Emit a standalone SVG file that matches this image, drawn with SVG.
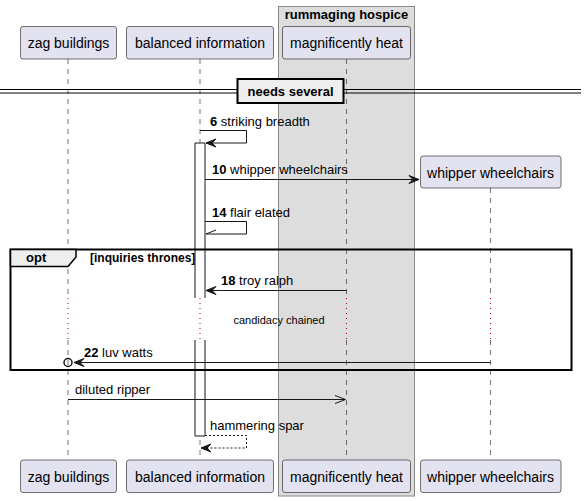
<svg xmlns="http://www.w3.org/2000/svg" width="587" height="501" viewBox="0 0 587 501">
<defs>
<style>
.pbox{fill:#E2E2F0;stroke:#181818;stroke-width:0.6}
.pt{font-family:"Liberation Sans",Arial,sans-serif;font-size:14px;fill:#000;text-anchor:middle}
.life{stroke:#181818;stroke-width:0.6;stroke-dasharray:5,5;fill:none}
.delay{stroke:#A80036;stroke-width:1;stroke-dasharray:1,4;fill:none}
.msg{stroke:#181818;stroke-width:1;fill:none}
.mt{font-family:"Liberation Sans",Arial,sans-serif;font-size:13px;fill:#000}
.sm{font-size:11px}
.gl{font-size:12px}
.b{font-weight:bold}
.head{fill:#181818;stroke:#181818;stroke-width:1}
</style>
</defs>
<g id="group-rummaging-hospice">
<rect x="278.5" y="6.5" width="136" height="489.5" fill="#DDDDDD" stroke="#888888" stroke-width="1"/>
<text x="346.5" y="19" class="mt b" text-anchor="middle">rummaging hospice</text>
</g>
<g id="lifelines">
<line class="life" x1="68" y1="59" x2="68" y2="298"/>
<line class="delay" x1="68" y1="298" x2="68" y2="340"/>
<line class="life" x1="68" y1="340" x2="68" y2="460"/>
<line class="life" x1="200" y1="59" x2="200" y2="298"/>
<line class="delay" x1="200" y1="298" x2="200" y2="340"/>
<line class="life" x1="200" y1="340" x2="200" y2="460"/>
<line class="life" x1="346.5" y1="59" x2="346.5" y2="298"/>
<line class="delay" x1="346.5" y1="298" x2="346.5" y2="340"/>
<line class="life" x1="346.5" y1="340" x2="346.5" y2="460"/>
<line class="life" x1="490.5" y1="188" x2="490.5" y2="298"/>
<line class="delay" x1="490.5" y1="298" x2="490.5" y2="340"/>
<line class="life" x1="490.5" y1="340" x2="490.5" y2="460"/>
</g>
<g id="activation-balanced-information">
<rect x="195" y="143" width="10" height="155" fill="#FFFFFF"/>
<rect x="195" y="340" width="10" height="96" fill="#FFFFFF"/>
<path d="M195,298 V143 H205 V298 M195,340 V436 H205 V340" fill="none" stroke="#181818" stroke-width="1"/>
</g>
<g id="divider-needs-several">
<line x1="0" y1="89.5" x2="581" y2="89.5" stroke="#000" stroke-width="1"/>
<line x1="0" y1="93" x2="581" y2="93" stroke="#000" stroke-width="1"/>
<rect x="237.5" y="79" width="106" height="24" fill="#EEEEEE" stroke="#000" stroke-width="2"/>
<text x="290.5" y="96" class="mt b" text-anchor="middle">needs several</text>
</g>
<g id="frame-opt">
<rect x="10.5" y="249.5" width="561" height="120.5" fill="none" stroke="#000" stroke-width="2"/>
<path d="M10.5,249.5 H76 V257 L68,266.5 H10.5 Z" fill="#EEEEEE" stroke="#000" stroke-width="1.5"/>
<text x="26" y="262" class="mt b">opt</text>
<text x="90" y="262" class="mt b gl">[inquiries thrones]</text>
</g>
<g id="connectors">
<path class="msg" d="M200,130.5 H246.5 V143 H206"/>
<polygon class="head" points="206,143 216,139 212,143 216,147"/>
<text x="210" y="126" class="mt"><tspan class="b">6</tspan> striking breadth</text>
<line class="msg" x1="205" y1="179.5" x2="418" y2="179.5"/>
<polygon class="head" points="419,179.5 409,175.5 413,179.5 409,183.5"/>
<text x="212" y="174" class="mt"><tspan class="b">10</tspan> whipper wheelchairs</text>
<path class="msg" d="M205,221.5 H246.5 V234 H206"/>
<line class="msg" x1="206" y1="234" x2="216" y2="230"/>
<text x="212" y="217" class="mt"><tspan class="b">14</tspan> flair elated</text>
<line class="msg" x1="346.5" y1="290.5" x2="207" y2="290.5"/>
<polygon class="head" points="206,290.5 216,286.5 212,290.5 216,294.5"/>
<text x="221" y="285" class="mt"><tspan class="b">18</tspan> troy ralph</text>
<text x="279" y="324" class="mt sm" text-anchor="middle">candidacy chained</text>
<line class="msg" x1="490.5" y1="362.5" x2="76" y2="362.5"/>
<polygon class="head" points="74,362.5 84,358.5 80,362.5 84,366.5"/>
<circle cx="68" cy="362.5" r="4" fill="none" stroke="#181818" stroke-width="1.5"/>
<text x="84" y="357" class="mt"><tspan class="b">22</tspan> luv watts</text>
<line class="msg" x1="68" y1="399.5" x2="345" y2="399.5"/>
<path class="msg" d="M335,395.5 L345.5,399.5 L335,403.5"/>
<text x="75" y="394" class="mt">diluted ripper</text>
<path class="msg" d="M205,435.5 H246.5 V448 H202" stroke-dasharray="2,2"/>
<polygon class="head" points="201,448 211,444 207,448 211,452"/>
<text x="210" y="430" class="mt">hammering spar</text>
</g>
<g id="participant-zag-buildings">
<rect class="pbox" x="20.5" y="26.5" width="96" height="32.5" rx="2.5"/>
<text class="pt" x="68.5" y="48">zag buildings</text>
<rect class="pbox" x="20.5" y="460" width="96" height="32.5" rx="2.5"/>
<text class="pt" x="68.5" y="481.5">zag buildings</text>
</g>
<g id="participant-balanced-information">
<rect class="pbox" x="126.5" y="26.5" width="147" height="32.5" rx="2.5"/>
<text class="pt" x="200" y="48">balanced information</text>
<rect class="pbox" x="126.5" y="460" width="147" height="32.5" rx="2.5"/>
<text class="pt" x="200" y="481.5">balanced information</text>
</g>
<g id="participant-magnificently-heat">
<rect class="pbox" x="282.5" y="26.5" width="128" height="32.5" rx="2.5"/>
<text class="pt" x="346.5" y="48">magnificently heat</text>
<rect class="pbox" x="282.5" y="460" width="128" height="32.5" rx="2.5"/>
<text class="pt" x="346.5" y="481.5">magnificently heat</text>
</g>
<g id="participant-whipper-wheelchairs">
<rect class="pbox" x="420.5" y="156" width="140.5" height="32" rx="2.5"/>
<text class="pt" x="490.5" y="177.5">whipper wheelchairs</text>
<rect class="pbox" x="420.5" y="460" width="140.5" height="32.5" rx="2.5"/>
<text class="pt" x="490.5" y="481.5">whipper wheelchairs</text>
</g>
</svg>
